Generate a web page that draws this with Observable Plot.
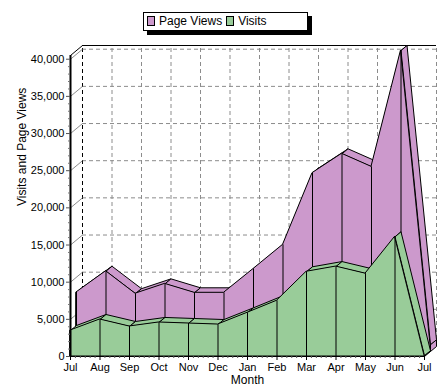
<!DOCTYPE html>
<html>
<head>
<meta charset="utf-8">
<script src="https://cdn.jsdelivr.net/npm/d3@7"></script>
<script src="https://cdn.jsdelivr.net/npm/@observablehq/plot@0.6"></script>
<style>
  html, body { margin: 0; padding: 0; background: #fff; }
  #wrap { position: relative; width: 448px; height: 392px; font-family: "Liberation Sans", Arial, sans-serif; }
  #legend { position: absolute; left: 143px; top: 12px; width: 163px; height: 17px; background: #fff;
    border: 1px solid #000; box-shadow: 4px 4px 0 #000; font-size: 12px; line-height: 17px; white-space: nowrap; }
  .sw { display: inline-block; width: 6px; height: 8px; border: 1px solid #000; vertical-align: -1px; margin: 0 4px 0 3px; }
  #legend span.t { margin-right: 1px; }
</style>
</head>
<body>
<div id="wrap">
  <div id="chart"></div>
  <div id="legend"><span class="sw" style="background:#CC99CC"></span><span class="t">Page Views</span><span class="sw" style="background:#99CC99"></span><span class="t">Visits</span></div>
</div>
<script>
const months = ["Jul","Aug","Sep","Oct","Nov","Dec","Jan","Feb","Mar","Apr","May","Jun","Jul"];
const pageViews = [7950, 10800, 7780, 9100, 7900, 7900, 11100, 14350, 24000, 26600, 24850, 40500, 900];
const visits    = [3500, 4980, 4040, 4580, 4440, 4300, 5880, 7500, 11400, 12100, 11150, 16100, 100];
const yTicks = [0, 5000, 10000, 15000, 20000, 25000, 30000, 35000, 40000];
const yMax = 40500;

const W = 448, H = 392, mL = 70, mR = 24, mT = 55, mB = 36;
const kx = (W - mL - mR) / 12;           // px per month
const ky = (H - mT - mB) / yMax;         // px per unit
const slot = [6, 5];                      // depth of one series slot, px (right, up)
const ox = slot[0] / kx, oy = slot[1] / ky;

const idx = months.map((_, i) => i);
const purple = "#CC99CC", green = "#99CC99";

function topFaces(vals, f, name) {
  const rows = [];
  for (let i = 0; i < vals.length - 1; i++) {
    const p = [
      [i + f * ox, vals[i] + f * oy],
      [i + 1 + f * ox, vals[i + 1] + f * oy],
      [i + 1 + (f + 1) * ox, vals[i + 1] + (f + 1) * oy],
      [i + (f + 1) * ox, vals[i] + (f + 1) * oy]
    ];
    p.push(p[0]);
    p.forEach(([x, y]) => rows.push({x, y, id: name + i}));
  }
  const n = vals.length - 1, v = vals[n];
  const s = [
    [n + f * ox, f * oy], [n + f * ox, v + f * oy],
    [n + (f + 1) * ox, v + (f + 1) * oy], [n + (f + 1) * ox, (f + 1) * oy]
  ];
  s.push(s[0]);
  s.forEach(([x, y]) => rows.push({x, y, id: name + "side"}));
  return rows;
}

const minorY = d3.range(0, 40001, 1000).filter(d => d % 5000 !== 0);
const minorX = d3.range(0, 12 * 6 + 1).map(d => d / 6).filter(d => Math.abs(d - Math.round(d)) > 1e-6);
const grid = "#8c8c8c";

const chart = Plot.plot({
  width: W, height: H,
  marginLeft: mL, marginRight: mR, marginTop: mT, marginBottom: mB,
  x: {domain: [0, 12], axis: null},
  y: {domain: [0, yMax], axis: null},
  style: {fontFamily: "Liberation Sans, Arial, sans-serif", fontSize: "11px", background: "#fff", color: "#000"},
  marks: [
    // back wall grid
    Plot.ruleY(yTicks.slice(1), {x1: 0, x2: 12, dx: 2 * slot[0], dy: -2 * slot[1], stroke: grid, strokeDasharray: "4,3"}),
    Plot.ruleX(idx.slice(1), {y1: 0, y2: yMax, dx: 2 * slot[0], dy: -2 * slot[1], stroke: grid, strokeDasharray: "4,3"}),
    Plot.ruleX([0], {y1: 0, y2: yMax, dx: 2 * slot[0], dy: -2 * slot[1], stroke: "#000", strokeDasharray: "4,3"}),
    Plot.ruleY([yMax], {x1: 0, x2: 12, dx: 2 * slot[0], dy: -2 * slot[1], stroke: "#000"}),
    // left wall connectors
    Plot.link(yTicks, {x1: 0, y1: d => d, x2: 2 * ox, y2: d => d + 2 * oy, stroke: grid}),
    Plot.link([yMax], {x1: 0, y1: d => d, x2: 2 * ox, y2: d => d + 2 * oy, stroke: "#000"}),
    // Page Views (back slot)
    Plot.line(topFaces(pageViews, 1, "pv"), {x: "x", y: "y", z: "id", fill: purple, stroke: "#000", strokeWidth: 1, strokeLinejoin: "miter"}),
    Plot.areaY(idx, {x: i => i, y: i => pageViews[i], dx: slot[0], dy: -slot[1], fill: purple, stroke: "#000", strokeWidth: 1}),
    Plot.ruleX(idx, {x: i => i, y1: 0, y2: i => pageViews[i], dx: slot[0], dy: -slot[1], stroke: "#000"}),
    // Visits (front slot)
    Plot.line(topFaces(visits, 0, "v"), {x: "x", y: "y", z: "id", fill: green, stroke: "#000", strokeWidth: 1, strokeLinejoin: "miter"}),
    Plot.areaY(idx, {x: i => i, y: i => visits[i], fill: green, stroke: "#000", strokeWidth: 1}),
    Plot.ruleX(idx, {x: i => i, y1: 0, y2: i => visits[i], stroke: "#000"}),
    // y axis
    Plot.ruleX([0], {y1: 0, y2: yMax, stroke: "#000", strokeWidth: 2}),
    Plot.ruleY(yTicks, {x1: -4 / kx, x2: 0, stroke: "#555"}),
    Plot.ruleY(minorY, {x1: -2 / kx, x2: 0, stroke: "#777"}),
    Plot.text(yTicks, {x: 0, y: d => d, text: d => d3.format(",")(d), textAnchor: "end", dx: -6, fill: "#000", fontSize: 11}),
    // x axis
    Plot.ruleY([0], {x1: 0, x2: 12, stroke: "#000"}),
    Plot.ruleX(idx, {x: i => i, y1: 0, y2: -4 / ky, stroke: "#000"}),
    Plot.ruleX(minorX, {x: d => d, y1: 0, y2: -2 / ky, stroke: "#555"}),
    Plot.text(idx, {x: i => i, y: 0, text: i => months[i], dy: 11, fill: "#000", fontSize: 11}),
    // titles
    Plot.text(["Visits and Page Views"], {frameAnchor: "left", dx: -48, rotate: -90, fill: "#000", fontSize: 12}),
    Plot.text(["Month"], {frameAnchor: "bottom", dy: 27, fill: "#000", fontSize: 12})
  ]
});
document.getElementById("chart").appendChild(chart);
</script>
</body>
</html>
